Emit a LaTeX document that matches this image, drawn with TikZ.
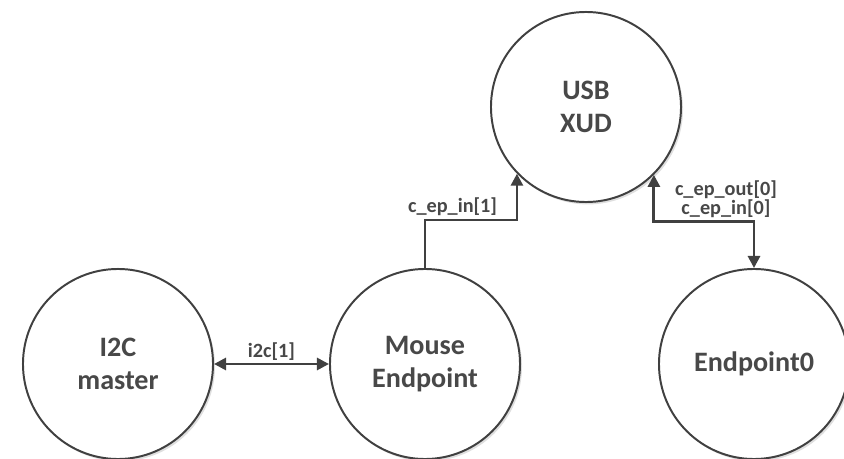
\documentclass[tikz,border=0pt]{standalone}
\usepackage{fontspec}
\setmainfont{Carlito}
\usepackage{tikz}
\usetikzlibrary{
  arrows.meta,
  shadows,      % Soft shadow behind the circles
}
\definecolor{linegray}{HTML}{404040}
\definecolor{textgray}{HTML}{484848}
\tikzset{
  font=\bfseries,
  >={Triangle[length=3mm,width=3mm]},
  my block/.style={
    circle,
    draw=linegray,
    line width=1.4pt,
    fill=white,
    minimum size=4.75cm,
    inner sep=0mm,
    align=center,
    text=textgray,
    font=\fontsize{20}{23.5}\selectfont\bfseries,
    drop shadow={shadow xshift=0.5mm,shadow yshift=-0.6mm,opacity=0.25}
  },
  my link/.style={
    draw=linegray,
    line width=2pt
  },
  my label/.style={
    text=textgray,
    inner sep=0.6mm,
    align=center,
    font=\fontsize{14.4}{13.5}\selectfont\bfseries
  }
}

\begin{document}
\begin{tikzpicture}[x=0.025cm,y=-0.025cm]
\useasboundingbox (0,0) rectangle (844,459);
% Circles
\node[my block] (usb)   at (586,107) {USB\\XUD};
\node[my block] (i2c)   at (118,364) {I2C\\master};
\node[my block] (mouse) at (425,364) {Mouse\\Endpoint};
\node[my block] (ep0)   at (754,364) {Endpoint0};
% Channels
\draw[my link,<->] (i2c) -- node[my label,above] {i2c[1]} (mouse);
\draw[my link,->] (mouse.north) -- ++(0,-48)
  -| node[my label,above,pos=0.15] {c\_ep\_in[1]} (usb.224);
\draw[my link,<->] (usb.315) -- ++(0,47)
  -| node[my label,above,pos=0.36] {c\_ep\_out[0]\\c\_ep\_in[0]} (ep0.north);
\end{tikzpicture}
\end{document}
